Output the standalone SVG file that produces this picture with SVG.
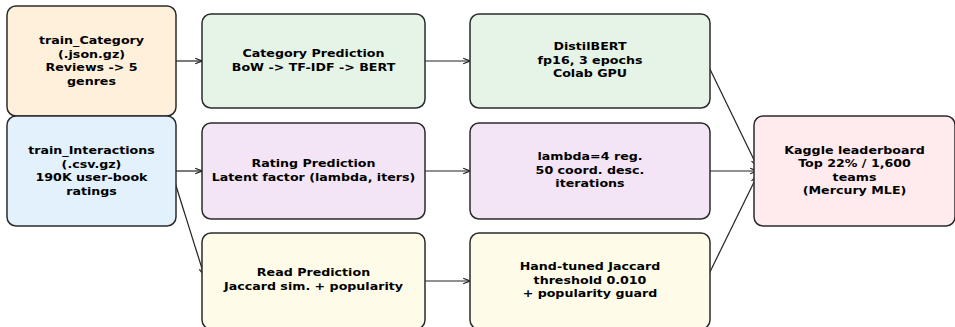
<svg xmlns="http://www.w3.org/2000/svg" width="955" height="327" viewBox="0 0 955 327">
<style>
.box{stroke:#2b2b2b;stroke-width:1.5}
.t{font-family:"DejaVu Sans",sans-serif;font-weight:bold;font-size:11px;fill:#000;text-anchor:middle}
.c{stroke:#222;stroke-width:1.2;fill:none}
</style>
<defs>
<marker id="ah" viewBox="0 0 10 10" refX="9.5" refY="5" markerWidth="8" markerHeight="8" markerUnits="userSpaceOnUse" orient="auto">
<path d="M1,1.5 L9.5,5 L1,8.5" fill="none" stroke="#222" stroke-width="1.5"/>
</marker>
</defs>
<rect width="955" height="327" fill="#fff"/>
<g id="connectors">
<line class="c" x1="176" y1="61" x2="202" y2="61" marker-end="url(#ah)"/>
<line class="c" x1="425" y1="61" x2="470" y2="61" marker-end="url(#ah)"/>
<line class="c" x1="176" y1="171" x2="202" y2="171" marker-end="url(#ah)"/>
<line class="c" x1="425" y1="171" x2="470" y2="171" marker-end="url(#ah)"/>
<line class="c" x1="172" y1="173" x2="204" y2="275" marker-end="url(#ah)"/>
<line class="c" x1="425" y1="281" x2="470" y2="281" marker-end="url(#ah)"/>
<line class="c" x1="707" y1="63" x2="757" y2="166" marker-end="url(#ah)"/>
<line class="c" x1="707" y1="171" x2="757" y2="171" marker-end="url(#ah)"/>
<line class="c" x1="707" y1="278" x2="757" y2="176" marker-end="url(#ah)"/>
</g>
<g id="trainCategory">
<rect class="box" x="7" y="6" width="169" height="110" rx="9" fill="#FFF0DC"/>
<g transform="translate(91.5 0) scale(1.15 1)">
<text class="t" x="0" y="44.5">train_Category</text>
<text class="t" x="0" y="58">(.json.gz)</text>
<text class="t" x="0" y="71.5">Reviews -&gt; 5</text>
<text class="t" x="0" y="85">genres</text>
</g>
</g>
<g id="trainInteractions">
<rect class="box" x="7" y="116" width="169" height="110" rx="9" fill="#E3F1FC"/>
<g transform="translate(91.5 0) scale(1.15 1)">
<text class="t" x="0" y="154.5">train_Interactions</text>
<text class="t" x="0" y="168">(.csv.gz)</text>
<text class="t" x="0" y="181.5">190K user-book</text>
<text class="t" x="0" y="195">ratings</text>
</g>
</g>
<g id="categoryPrediction">
<rect class="box" x="202" y="14" width="223" height="94" rx="9" fill="#E6F4E7"/>
<g transform="translate(313.5 0) scale(1.15 1)">
<text class="t" x="0" y="57.5">Category Prediction</text>
<text class="t" x="0" y="71">BoW -&gt; TF-IDF -&gt; BERT</text>
</g>
</g>
<g id="distilbert">
<rect class="box" x="470" y="14" width="240" height="94" rx="9" fill="#E6F4E7"/>
<g transform="translate(590 0) scale(1.15 1)">
<text class="t" x="0" y="50.5">DistilBERT</text>
<text class="t" x="0" y="64">fp16, 3 epochs</text>
<text class="t" x="0" y="77.5">Colab GPU</text>
</g>
</g>
<g id="ratingPrediction">
<rect class="box" x="202" y="123" width="223" height="96" rx="9" fill="#F3E5F5"/>
<g transform="translate(313.5 0) scale(1.15 1)">
<text class="t" x="0" y="167.3">Rating Prediction</text>
<text class="t" x="0" y="180.7">Latent factor (lambda, iters)</text>
</g>
</g>
<g id="lambda">
<rect class="box" x="470" y="123" width="240" height="96" rx="9" fill="#F3E5F5"/>
<g transform="translate(590 0) scale(1.15 1)">
<text class="t" x="0" y="160.5">lambda=4 reg.</text>
<text class="t" x="0" y="174">50 coord. desc.</text>
<text class="t" x="0" y="187.5">iterations</text>
</g>
</g>
<g id="readPrediction">
<rect class="box" x="202" y="233" width="223" height="96" rx="9" fill="#FEFCE8"/>
<g transform="translate(313.5 0) scale(1.15 1)">
<text class="t" x="0" y="276.5">Read Prediction</text>
<text class="t" x="0" y="290">Jaccard sim. + popularity</text>
</g>
</g>
<g id="handTuned">
<rect class="box" x="470" y="233" width="240" height="96" rx="9" fill="#FEFCE8"/>
<g transform="translate(590 0) scale(1.15 1)">
<text class="t" x="0" y="270.5">Hand-tuned Jaccard</text>
<text class="t" x="0" y="284">threshold 0.010</text>
<text class="t" x="0" y="297.5">+ popularity guard</text>
</g>
</g>
<g id="kaggle">
<rect class="box" x="754" y="116" width="201" height="110" rx="9" fill="#FFEBEE"/>
<g transform="translate(854.5 0) scale(1.15 1)">
<text class="t" x="0" y="154">Kaggle leaderboard</text>
<text class="t" x="0" y="167.4">Top 22% / 1,600</text>
<text class="t" x="0" y="180.8">teams</text>
<text class="t" x="0" y="194.2">(Mercury MLE)</text>
</g>
</g>
</svg>
